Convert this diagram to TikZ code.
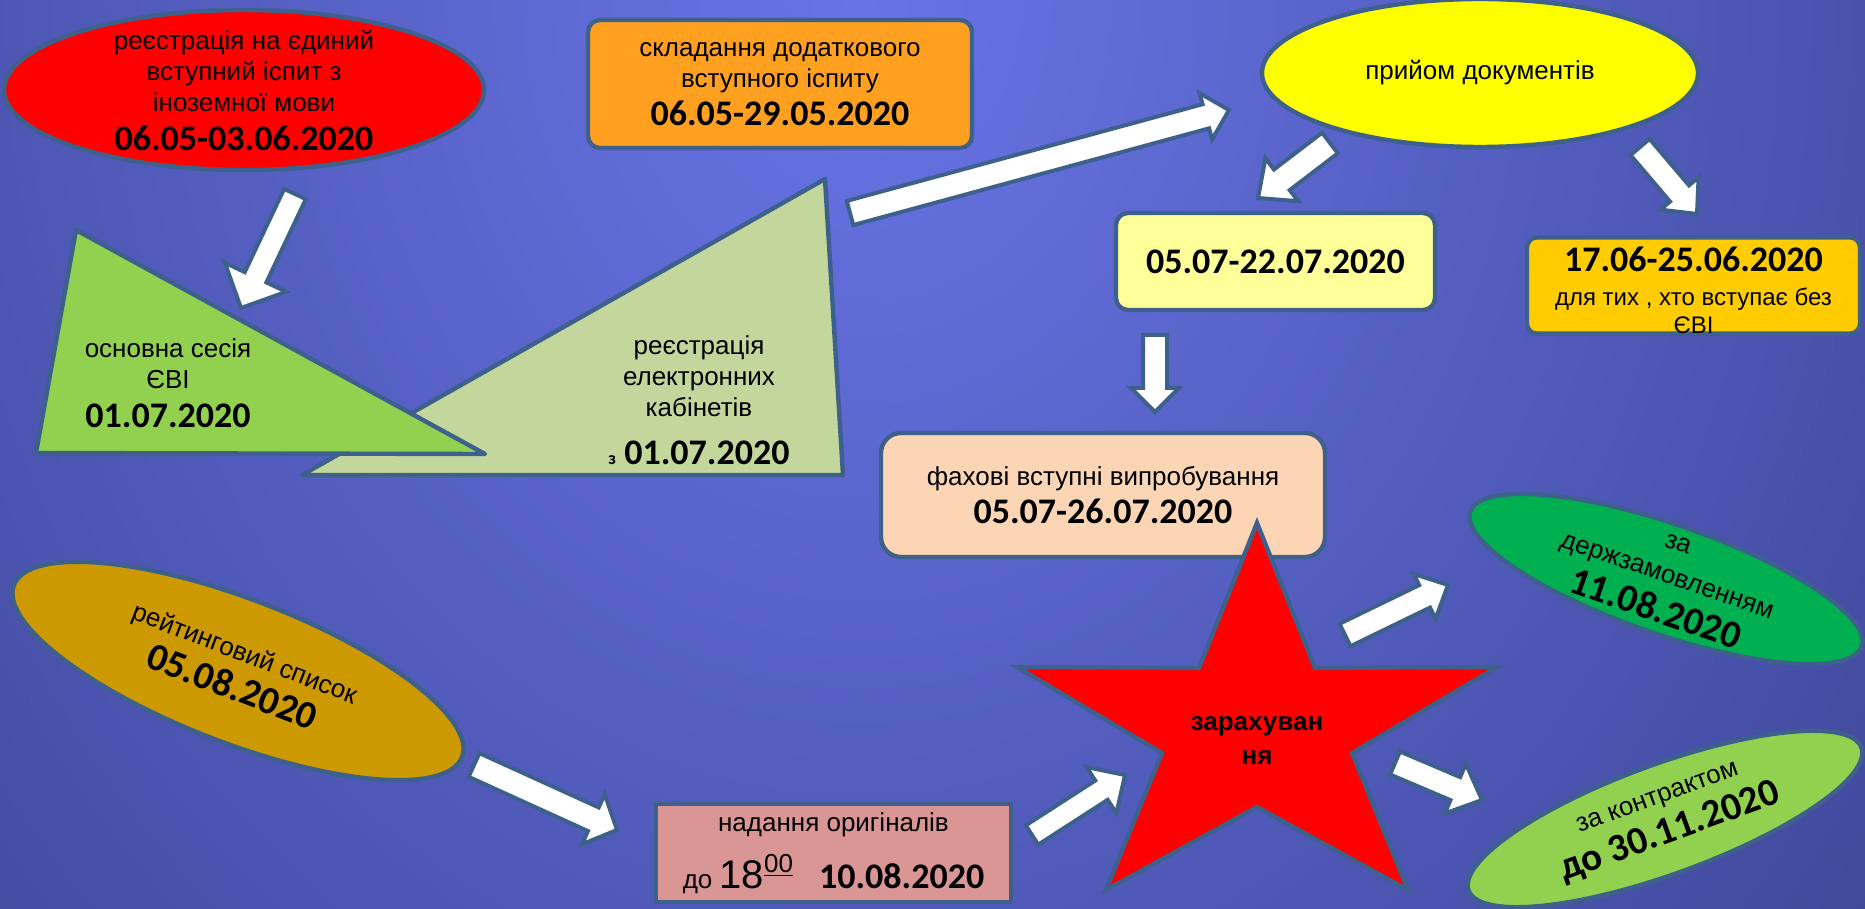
\documentclass[tikz,border=0pt]{standalone}
\usepackage{fontspec}
\setmainfont{Liberation Sans}
\newfontfamily\calibri{Carlito}
\usetikzlibrary{calc,shapes.geometric}

\definecolor{bgin}{RGB}{104,116,230}
\definecolor{bgout}{RGB}{42,48,112}
\definecolor{edge}{RGB}{62,96,140}
\definecolor{redfill}{RGB}{255,0,0}
\definecolor{orangefill}{RGB}{255,160,32}
\definecolor{evigreen}{RGB}{146,208,80}
\definecolor{cabgreen}{RGB}{195,214,155}
\definecolor{docyellow}{RGB}{255,255,0}
\definecolor{paleyellow}{RGB}{255,255,153}
\definecolor{goldbox}{RGB}{255,204,0}
\definecolor{peach}{RGB}{252,213,181}
\definecolor{pinkbox}{RGB}{217,150,148}
\definecolor{stategreen}{RGB}{0,176,80}
\definecolor{ratinggold}{RGB}{204,153,0}

\newcommand{\datefont}{\calibri\bfseries\fontsize{18}{20}\selectfont}
\newcommand{\bigdatefont}{\calibri\bfseries\fontsize{19.5}{21}\selectfont}

\begin{document}
\begin{tikzpicture}[x=0.5pt, y=-0.5pt,
  txt/.style={font=\fontsize{13}{15.5}\selectfont, align=center, text=black},
  oval/.style={ellipse, draw=edge, line width=2.2pt, inner xsep=0pt, inner ysep=-20pt, txt},
  box/.style={rectangle, draw=edge, line width=2.2pt, inner sep=0pt, txt},
  shapeline/.style={draw=edge, line width=2.2pt, line join=round},
  fatarrow/.style={draw=edge, fill=white, line width=2pt, line join=miter}]

  % tail, tip, half shaft, half head, head length
  \def\blockarrow#1#2#3#4#5{%
    \coordinate (ab) at ($(#2)!#5!(#1)$);
    \draw[fatarrow] ($(#1)!#3!90:(#2)$) -- ($(ab)!#3!90:(#2)$) -- ($(ab)!#4!90:(#2)$) -- (#2)
      -- ($(ab)!#4!-90:(#2)$) -- ($(ab)!#3!-90:(#2)$) -- ($(#1)!#3!-90:(#2)$) -- cycle;
  }

  % Background
  \useasboundingbox (0,0) rectangle (1865,909);
  \begin{scope}
    \clip (0,0) rectangle (1865,909);
    \shade[inner color=bgin, outer color=bgout] (860,0) ellipse (2000 and 2400);
  \end{scope}

  % Triangles
  \draw[shapeline, fill=cabgreen] (825,179) -- (843,475) -- (302,475) -- cycle;
  \node[txt] (cabinet) at (699,400)
    {реєстрація\\електронних\\кабінетів\\[8.5pt]{\datefont{\fontsize{9}{10}\selectfont з}~01.07.2020}};
  \draw[shapeline, fill=evigreen] (76,230) -- (485,454) -- (36,453) -- cycle;
  \node[txt] (evi) at (168,383) {основна сесія\\ЄВІ\\[4pt]{\datefont 01.07.2020}};

  % Top row
  \node[oval, fill=redfill, minimum width=240pt, minimum height=80pt] (regforeign) at (244,90)
    {реєстрація на єдиний\\вступний іспит з\\іноземної мови\\[4pt]{\datefont 06.05-03.06.2020}};
  \node[box, fill=orangefill, rounded corners=6pt, minimum width=192pt, minimum height=64pt] (extra) at (780,84)
    {складання додаткового\\вступного іспиту\\[3.5pt]{\datefont 06.05-29.05.2020}};
  \node[oval, fill=docyellow, minimum width=218pt, minimum height=74pt] (docs) at (1480,73) {прийом документів};
  \node[box, fill=paleyellow, rounded corners=6pt, minimum width=159.5pt, minimum height=48.5pt] (docdates) at (1275.5,261.5)
    {{\datefont 05.07-22.07.2020}};
  \node[box, fill=goldbox, rounded corners=5pt, minimum width=166.5pt, minimum height=47.5pt,
    font=\fontsize{12}{14}\selectfont] (noevi) at (1693.5,285.5)
    {\rule{0pt}{17pt}{\datefont 17.06-25.06.2020}\\[3pt]для тих , хто вступає без\\ЄВІ};

  % Exams and enrolment
  \node[box, fill=peach, rounded corners=10pt, minimum width=222pt, minimum height=62pt] (exams) at (1103,495)
    {фахові вступні випробування\\[3.5pt]{\datefont 05.07-26.07.2020}};
  \draw[shapeline, line join=miter, fill=redfill] (1257,523) -- (1315,668) -- (1497,667) -- (1352,753) -- (1408,890)
    -- (1257,807) -- (1106,890) -- (1162,753) -- (1017,667) -- (1199,668) -- cycle;
  \node[txt, font=\fontsize{13}{17}\selectfont\bfseries] (enrol) at (1257,740) {зарахуван\\ня};

  % Bottom row
  \node[oval, fill=ratinggold, minimum width=240pt, minimum height=72pt, rotate=-21] (rating) at (238,671)
    {рейтинговий список\\[2.5pt]{\bigdatefont 05.08.2020}};
  \node[box, fill=pinkbox, minimum width=177.5pt, minimum height=49pt] (originals) at (833.5,853)
    {надання оригіналів\\[8pt]до {\fontsize{20}{22}\selectfont 18}\raisebox{8pt}{\underline{00}}\hspace{1em}{\datefont 10.08.2020}};
  \node[oval, fill=stategreen, minimum width=207pt, minimum height=55pt, rotate=-19] (state) at (1666,579)
    {за\\[1.5pt]держзамовленням\\[3pt]{\bigdatefont 11.08.2020}};
  \node[oval, fill=evigreen, minimum width=209pt, minimum height=55pt, rotate=20] (contract) at (1665,819)
    {за контрактом\\[4.5pt]{\bigdatefont до 30.11.2020}};

  % Arrows
  \coordinate (t1) at (295,194);   \coordinate (h1) at (241,308);
  \coordinate (t2) at (850,213);   \coordinate (h2) at (1229,110);
  \coordinate (t3) at (1330,143);  \coordinate (h3) at (1258,198);
  \coordinate (t4) at (1640,147);  \coordinate (h4) at (1697,214);
  \coordinate (t5) at (1155,335);  \coordinate (h5) at (1155,412);
  \coordinate (t6) at (474,765);   \coordinate (h6) at (617,830);
  \coordinate (t7) at (1032,835);  \coordinate (h7) at (1125,775);
  \coordinate (t8) at (1345,635);  \coordinate (h8) at (1448,585);
  \coordinate (t9) at (1395,763);  \coordinate (h9) at (1482,800);

  \blockarrow{t1}{h1}{6pt}{17pt}{17pt}
  \blockarrow{t2}{h2}{6.25pt}{12pt}{12pt}
  \blockarrow{t3}{h3}{6.5pt}{13.5pt}{15pt}
  \blockarrow{t4}{h4}{6.25pt}{12.5pt}{13.5pt}
  \blockarrow{t5}{h5}{6pt}{12pt}{12pt}
  \blockarrow{t6}{h6}{6.5pt}{13.75pt}{13pt}
  \blockarrow{t7}{h7}{5.75pt}{13.75pt}{14pt}
  \blockarrow{t8}{h8}{6.25pt}{12.5pt}{13pt}
  \blockarrow{t9}{h9}{6.25pt}{13.5pt}{14.5pt}
\end{tikzpicture}
\end{document}
